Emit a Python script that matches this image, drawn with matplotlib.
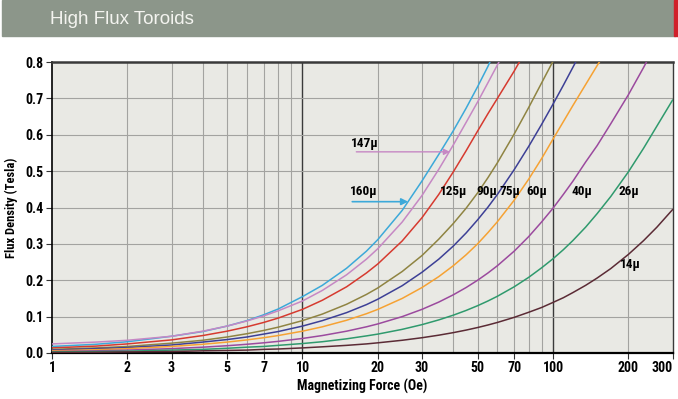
import matplotlib
matplotlib.use("Agg")
import matplotlib.pyplot as plt
import matplotlib.font_manager as fm
import numpy as np

# pick a narrow font if there is one, the chart uses a condensed face
names = {f.name for f in fm.fontManager.ttflist}
cond = 'DejaVu Sans'
for cand in ['Liberation Sans Narrow', 'DejaVu Sans Condensed', 'Roboto Condensed',
             'Open Sans Condensed', 'Roboto']:
    if cand in names:
        cond = cand
        break
plt.rcParams['font.family'] = [cond, 'DejaVu Sans']

# magnetizing force (Oe) sample points, shared by all curves
H = [1, 1.5, 2, 3, 4, 5, 6, 7, 8, 10, 12, 15, 18, 20, 25, 30, 35, 40, 45, 50, 55, 60,
     70, 80, 90, 100, 110, 120, 135, 150, 170, 200, 230, 260, 300]

# flux density (T), each list runs along H until it leaves the top
b160 = [0.018, 0.024, 0.031, 0.046, 0.059, 0.074, 0.089, 0.105, 0.121, 0.155, 0.186,
        0.233, 0.28, 0.312, 0.392, 0.473, 0.546, 0.611, 0.673, 0.732, 0.788, 0.845]
b147 = [0.025, 0.03, 0.035, 0.046, 0.06, 0.074, 0.088, 0.102, 0.116, 0.143, 0.172,
        0.215, 0.258, 0.287, 0.36, 0.433, 0.505, 0.572, 0.634, 0.69, 0.743, 0.792, 0.88]
b125 = [0.014, 0.019, 0.025, 0.036, 0.048, 0.06, 0.072, 0.084, 0.096, 0.12, 0.145,
        0.182, 0.22, 0.245, 0.308, 0.372, 0.436, 0.498, 0.556, 0.61, 0.658, 0.7,
        0.775, 0.845]
b90 = [0.01, 0.014, 0.018, 0.027, 0.035, 0.044, 0.053, 0.062, 0.071, 0.089, 0.107,
       0.134, 0.161, 0.179, 0.224, 0.268, 0.313, 0.356, 0.398, 0.44, 0.482, 0.523,
       0.602, 0.675, 0.742, 0.802, 0.858]
b75 = [0.008, 0.012, 0.015, 0.022, 0.03, 0.037, 0.044, 0.052, 0.059, 0.074, 0.089,
       0.111, 0.133, 0.148, 0.185, 0.222, 0.258, 0.294, 0.33, 0.366, 0.401, 0.436,
       0.504, 0.568, 0.628, 0.684, 0.736, 0.785, 0.852]
b60 = [0.006, 0.009, 0.012, 0.018, 0.024, 0.03, 0.036, 0.042, 0.048, 0.06, 0.072,
       0.09, 0.108, 0.12, 0.15, 0.18, 0.21, 0.24, 0.27, 0.3, 0.331, 0.361,
       0.42, 0.478, 0.534, 0.588, 0.636, 0.68, 0.738, 0.79, 0.85]
b40 = [0.004, 0.006, 0.008, 0.012, 0.016, 0.02, 0.024, 0.028, 0.032, 0.04, 0.048,
       0.06, 0.072, 0.08, 0.1, 0.12, 0.14, 0.16, 0.18, 0.2, 0.22, 0.24,
       0.28, 0.32, 0.36, 0.398, 0.436, 0.472, 0.525, 0.57, 0.63, 0.71, 0.785, 0.855]
b26 = [0.003, 0.004, 0.005, 0.008, 0.01, 0.013, 0.016, 0.018, 0.021, 0.026, 0.031,
       0.039, 0.047, 0.052, 0.065, 0.078, 0.091, 0.104, 0.117, 0.13, 0.143, 0.156,
       0.182, 0.208, 0.234, 0.259, 0.284, 0.309, 0.346, 0.383, 0.43, 0.498, 0.563,
       0.624, 0.695]
b14 = [0.0015, 0.002, 0.003, 0.004, 0.006, 0.007, 0.008, 0.01, 0.011, 0.014, 0.017,
       0.021, 0.025, 0.028, 0.035, 0.042, 0.049, 0.056, 0.063, 0.07, 0.077, 0.084,
       0.098, 0.112, 0.125, 0.139, 0.152, 0.166, 0.186, 0.206, 0.232, 0.271, 0.309,
       0.346, 0.394]

curves = [b160, b147, b125, b90, b75, b60, b40, b26, b14]
colors = ['#3ca9d9', '#c688c4', '#d63a2f', '#8f8442', '#3d4096',
          '#f6a233', '#9b4a9e', '#2f9a6d', '#5b2b35']

# inline labels: text, H, B
labels = ['125µ', '90µ', '75µ', '60µ', '40µ', '26µ', '14µ']
label_h = [40.1, 54.3, 67.3, 86.3, 130, 200, 204]
label_b = [0.443, 0.443, 0.443, 0.443, 0.443, 0.443, 0.242]

xticks = [1, 2, 3, 5, 7, 10, 20, 30, 50, 70, 100, 200, 300]
yticks = [0.0, 0.1, 0.2, 0.3, 0.4, 0.5, 0.6, 0.7, 0.8]
grid_x = [2, 3, 4, 5, 6, 7, 8, 9, 20, 30, 40, 50, 60, 70, 80, 90, 200]

fig = plt.figure(figsize=(6.78, 3.99), dpi=100)

# header band
fig.patches.append(plt.Rectangle((0.003, 1 - 36 / 399), 0.992, 36 / 399,
                                 transform=fig.transFigure, color='#8c968a', zorder=0))
fig.patches.append(plt.Rectangle((674 / 678, 1 - 36 / 399), 4 / 678, 36 / 399,
                                 transform=fig.transFigure, color='#d0202a', zorder=0))
fig.text(50 / 678, 1 - 19 / 399, 'High Flux Toroids', color='#f4f4f0', fontsize=13.5,
         family='Liberation Sans', va='center', ha='left')

ax = fig.add_axes([52 / 678, 1 - 353 / 399, 620.5 / 678, 291 / 399])
ax.set_facecolor('#e9e9e4')
ax.set_xscale('log')
ax.set_xlim(1, 300)
ax.set_ylim(0, 0.8)

for gx in grid_x:
    ax.axvline(gx, color='#a3a3a0', lw=0.8, zorder=1)
for gx in [10, 100]:
    ax.axvline(gx, color='#3a3a3a', lw=1.0, zorder=1)
for gy in yticks[1:-1]:
    ax.axhline(gy, color='#a3a3a0', lw=0.8, zorder=1)

for b, c in zip(curves, colors):
    ax.plot(H[:len(b)], b, color=c, lw=1.1, zorder=3)

for t, h, b in zip(labels, label_h, label_b):
    ax.text(h, b, t, ha='center', va='center', fontsize=9.5, fontweight='bold', zorder=4)

# arrow labels for 147 and 160
ax.text(17.8, 0.577, '147µ', ha='center', va='center', fontsize=9.5, fontweight='bold', zorder=4)
ax.annotate('', xy=(38.8, 0.553), xytext=(16.4, 0.553),
            arrowprops=dict(arrowstyle='-|>', color=colors[1], lw=1.0,
                            mutation_scale=9, shrinkA=0, shrinkB=0), zorder=4)
ax.text(17.6, 0.443, '160µ', ha='center', va='center', fontsize=9.5, fontweight='bold', zorder=4)
ax.annotate('', xy=(26.4, 0.416), xytext=(15.8, 0.416),
            arrowprops=dict(arrowstyle='-|>', color=colors[0], lw=1.2,
                            mutation_scale=10, shrinkA=0, shrinkB=0), zorder=4)

ax.set_xticks(xticks)
ax.set_xticklabels([str(x) for x in xticks])
ax.xaxis.set_minor_locator(matplotlib.ticker.NullLocator())
ax.set_yticks(yticks)
ax.set_yticklabels(['%.1f' % y for y in yticks])
ax.tick_params(labelsize=10, length=4, width=0.8, color='#333333', pad=2)
for lab in ax.get_xticklabels() + ax.get_yticklabels():
    lab.set_fontweight('bold')
ax.get_xticklabels()[-1].set_ha('right')

ax.set_xlabel('Magnetizing Force (Oe)', fontsize=10, fontweight='bold')
ax.set_ylabel('Flux Density (Tesla)', fontsize=9, fontweight='bold')
ax.xaxis.set_label_coords(0.5, -0.088)
ax.yaxis.set_label_coords(-0.055, 0.5)

ax.spines['left'].set_linewidth(1.2)
ax.spines['bottom'].set_linewidth(1.6)
ax.spines['top'].set_linewidth(1.8)
ax.spines['top'].set_color('#3a3a3a')
ax.spines['right'].set_color('#3a3a3a')
ax.spines['right'].set_linewidth(1.0)

fig.savefig('out.png', dpi=100)
